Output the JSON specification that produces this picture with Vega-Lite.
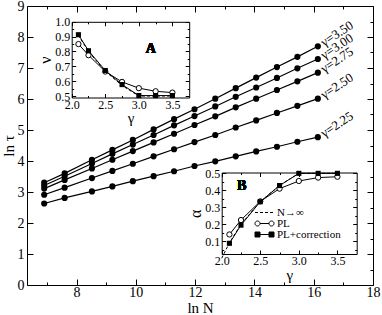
{
  "$schema": "https://vega.github.io/schema/vega-lite/v6.json",
  "width": 346,
  "height": 279,
  "autosize": {"type": "none"},
  "padding": {"left": 27, "top": 6, "right": 9, "bottom": 30},
  "config": {
    "view": {"stroke": null},
    "font": "Liberation Serif",
    "axis": {
      "grid": false,
      "labelFont": "Liberation Serif",
      "titleFont": "Liberation Serif",
      "titleFontWeight": "normal",
      "labelColor": "black",
      "titleColor": "black",
      "domainColor": "black",
      "tickColor": "black",
      "domainWidth": 1,
      "tickWidth": 1
    },
    "legend": {"labelFont": "Liberation Serif"}
  },
  "datasets": {
    "main": [
      {"gamma": "3.50", "lnN": 6.91, "lntau": 3.30}, {"gamma": "3.50", "lnN": 7.60, "lntau": 3.60}, {"gamma": "3.50", "lnN": 8.52, "lntau": 4.04}, {"gamma": "3.50", "lnN": 9.21, "lntau": 4.36}, {"gamma": "3.50", "lnN": 9.90, "lntau": 4.68}, {"gamma": "3.50", "lnN": 10.60, "lntau": 5.02}, {"gamma": "3.50", "lnN": 11.29, "lntau": 5.35}, {"gamma": "3.50", "lnN": 11.98, "lntau": 5.67}, {"gamma": "3.50", "lnN": 12.68, "lntau": 6.01}, {"gamma": "3.50", "lnN": 13.37, "lntau": 6.35}, {"gamma": "3.50", "lnN": 14.06, "lntau": 6.69}, {"gamma": "3.50", "lnN": 14.76, "lntau": 7.03}, {"gamma": "3.50", "lnN": 15.45, "lntau": 7.36}, {"gamma": "3.50", "lnN": 16.14, "lntau": 7.70},
      {"gamma": "3.00", "lnN": 6.91, "lntau": 3.21}, {"gamma": "3.00", "lnN": 7.60, "lntau": 3.51}, {"gamma": "3.00", "lnN": 8.52, "lntau": 3.92}, {"gamma": "3.00", "lnN": 9.21, "lntau": 4.23}, {"gamma": "3.00", "lnN": 9.90, "lntau": 4.53}, {"gamma": "3.00", "lnN": 10.60, "lntau": 4.84}, {"gamma": "3.00", "lnN": 11.29, "lntau": 5.15}, {"gamma": "3.00", "lnN": 11.98, "lntau": 5.45}, {"gamma": "3.00", "lnN": 12.68, "lntau": 5.76}, {"gamma": "3.00", "lnN": 13.37, "lntau": 6.07}, {"gamma": "3.00", "lnN": 14.06, "lntau": 6.37}, {"gamma": "3.00", "lnN": 14.76, "lntau": 6.68}, {"gamma": "3.00", "lnN": 15.45, "lntau": 6.99}, {"gamma": "3.00", "lnN": 16.14, "lntau": 7.29},
      {"gamma": "2.75", "lnN": 6.91, "lntau": 3.11}, {"gamma": "2.75", "lnN": 7.60, "lntau": 3.39}, {"gamma": "2.75", "lnN": 8.52, "lntau": 3.76}, {"gamma": "2.75", "lnN": 9.21, "lntau": 4.04}, {"gamma": "2.75", "lnN": 9.90, "lntau": 4.32}, {"gamma": "2.75", "lnN": 10.60, "lntau": 4.60}, {"gamma": "2.75", "lnN": 11.29, "lntau": 4.88}, {"gamma": "2.75", "lnN": 11.98, "lntau": 5.16}, {"gamma": "2.75", "lnN": 12.68, "lntau": 5.44}, {"gamma": "2.75", "lnN": 13.37, "lntau": 5.73}, {"gamma": "2.75", "lnN": 14.06, "lntau": 6.01}, {"gamma": "2.75", "lnN": 14.76, "lntau": 6.29}, {"gamma": "2.75", "lnN": 15.45, "lntau": 6.57}, {"gamma": "2.75", "lnN": 16.14, "lntau": 6.85},
      {"gamma": "2.50", "lnN": 6.91, "lntau": 2.91}, {"gamma": "2.50", "lnN": 7.60, "lntau": 3.14}, {"gamma": "2.50", "lnN": 8.52, "lntau": 3.45}, {"gamma": "2.50", "lnN": 9.21, "lntau": 3.68}, {"gamma": "2.50", "lnN": 9.90, "lntau": 3.91}, {"gamma": "2.50", "lnN": 10.60, "lntau": 4.15}, {"gamma": "2.50", "lnN": 11.29, "lntau": 4.38}, {"gamma": "2.50", "lnN": 11.98, "lntau": 4.61}, {"gamma": "2.50", "lnN": 12.68, "lntau": 4.84}, {"gamma": "2.50", "lnN": 13.37, "lntau": 5.08}, {"gamma": "2.50", "lnN": 14.06, "lntau": 5.31}, {"gamma": "2.50", "lnN": 14.76, "lntau": 5.55}, {"gamma": "2.50", "lnN": 15.45, "lntau": 5.78}, {"gamma": "2.50", "lnN": 16.14, "lntau": 6.01},
      {"gamma": "2.25", "lnN": 6.91, "lntau": 2.63}, {"gamma": "2.25", "lnN": 7.60, "lntau": 2.81}, {"gamma": "2.25", "lnN": 8.52, "lntau": 3.02}, {"gamma": "2.25", "lnN": 9.21, "lntau": 3.18}, {"gamma": "2.25", "lnN": 9.90, "lntau": 3.35}, {"gamma": "2.25", "lnN": 10.60, "lntau": 3.51}, {"gamma": "2.25", "lnN": 11.29, "lntau": 3.67}, {"gamma": "2.25", "lnN": 11.98, "lntau": 3.84}, {"gamma": "2.25", "lnN": 12.68, "lntau": 3.99}, {"gamma": "2.25", "lnN": 13.37, "lntau": 4.15}, {"gamma": "2.25", "lnN": 14.06, "lntau": 4.31}, {"gamma": "2.25", "lnN": 14.76, "lntau": 4.46}, {"gamma": "2.25", "lnN": 15.45, "lntau": 4.62}, {"gamma": "2.25", "lnN": 16.14, "lntau": 4.77}
    ],
    "insetA": [
      {"series": "N→∞", "gamma": 2.1, "nu": 0.909}, {"series": "N→∞", "gamma": 2.25, "nu": 0.8}, {"series": "N→∞", "gamma": 2.5, "nu": 0.667}, {"series": "N→∞", "gamma": 2.75, "nu": 0.571}, {"series": "N→∞", "gamma": 3.0, "nu": 0.5}, {"series": "N→∞", "gamma": 3.25, "nu": 0.5}, {"series": "N→∞", "gamma": 3.5, "nu": 0.5},
      {"series": "PL", "gamma": 2.1, "nu": 0.85}, {"series": "PL", "gamma": 2.25, "nu": 0.775}, {"series": "PL", "gamma": 2.5, "nu": 0.665}, {"series": "PL", "gamma": 2.75, "nu": 0.595}, {"series": "PL", "gamma": 3.0, "nu": 0.553}, {"series": "PL", "gamma": 3.25, "nu": 0.532}, {"series": "PL", "gamma": 3.5, "nu": 0.523},
      {"series": "PL+correction", "gamma": 2.1, "nu": 0.913}, {"series": "PL+correction", "gamma": 2.25, "nu": 0.805}, {"series": "PL+correction", "gamma": 2.5, "nu": 0.672}, {"series": "PL+correction", "gamma": 2.75, "nu": 0.577}, {"series": "PL+correction", "gamma": 3.0, "nu": 0.503}, {"series": "PL+correction", "gamma": 3.25, "nu": 0.503}, {"series": "PL+correction", "gamma": 3.5, "nu": 0.503}
    ],
    "insetB": [
      {"series": "N→∞", "gamma": 2.0, "alpha": 0.0}, {"series": "N→∞", "gamma": 2.1, "alpha": 0.0909}, {"series": "N→∞", "gamma": 2.25, "alpha": 0.2}, {"series": "N→∞", "gamma": 2.5, "alpha": 0.333}, {"series": "N→∞", "gamma": 2.75, "alpha": 0.4286}, {"series": "N→∞", "gamma": 3.0, "alpha": 0.5}, {"series": "N→∞", "gamma": 3.25, "alpha": 0.5}, {"series": "N→∞", "gamma": 3.5, "alpha": 0.5},
      {"series": "PL", "gamma": 2.1, "alpha": 0.14}, {"series": "PL", "gamma": 2.25, "alpha": 0.225}, {"series": "PL", "gamma": 2.5, "alpha": 0.335}, {"series": "PL", "gamma": 2.75, "alpha": 0.41}, {"series": "PL", "gamma": 3.0, "alpha": 0.455}, {"series": "PL", "gamma": 3.25, "alpha": 0.475}, {"series": "PL", "gamma": 3.5, "alpha": 0.48},
      {"series": "PL+correction", "gamma": 2.1, "alpha": 0.088}, {"series": "PL+correction", "gamma": 2.25, "alpha": 0.195}, {"series": "PL+correction", "gamma": 2.5, "alpha": 0.333}, {"series": "PL+correction", "gamma": 2.75, "alpha": 0.428}, {"series": "PL+correction", "gamma": 3.0, "alpha": 0.5}, {"series": "PL+correction", "gamma": 3.25, "alpha": 0.5}, {"series": "PL+correction", "gamma": 3.5, "alpha": 0.5}
    ]
  },
  "resolve": {"scale": {"x": "independent", "y": "independent"}},
  "layer": [
    {
      "data": {"name": "main"},
      "layer": [
        {
          "mark": {"type": "line", "color": "black", "strokeWidth": 1.2, "point": {"filled": true, "size": 38, "color": "black"}},
          "encoding": {
            "detail": {"field": "gamma", "type": "nominal"},
            "x": {"field": "lnN", "type": "quantitative", "scale": {"domain": [6.33, 18], "nice": false, "zero": false},
              "axis": {"orient": "bottom", "values": [7, 8, 9, 10, 11, 12, 13, 14, 15, 16, 17, 18], "format": "d",
                "labelExpr": "datum.value % 2 == 0 ? datum.label : ''",
                "tickSize": {"condition": {"test": "datum.value % 2 == 0", "value": -6}, "value": -3},
                "labelPadding": 6, "labelFlush": false, "labelOverlap": false, "labelFontSize": 14, "labelFont": "Liberation Serif",
                "title": "ln N", "titleFontSize": 15, "titlePadding": -2, "titleFont": "Liberation Serif"}},
            "y": {"field": "lntau", "type": "quantitative", "scale": {"domain": [0, 9], "nice": false, "zero": false},
              "axis": {"orient": "left", "values": [0, 0.5, 1, 1.5, 2, 2.5, 3, 3.5, 4, 4.5, 5, 5.5, 6, 6.5, 7, 7.5, 8, 8.5, 9], "format": "d",
                "labelExpr": "datum.value % 1 == 0 ? datum.label : ''",
                "tickSize": {"condition": {"test": "datum.value % 1 == 0", "value": -6}, "value": -3},
                "labelPadding": 9, "labelFlush": false, "labelOverlap": false, "labelFontSize": 14, "labelFont": "Liberation Serif",
                "title": "ln τ", "titleFontSize": 15, "titlePadding": 1, "titleFont": "Liberation Serif"}}
          }
        },
        {
          "mark": {"type": "point", "opacity": 0},
          "encoding": {
            "x": {"field": "lnN", "type": "quantitative", "scale": {"domain": [6.33, 18], "nice": false, "zero": false},
              "axis": {"orient": "top", "values": [7, 8, 9, 10, 11, 12, 13, 14, 15, 16, 17, 18], "labels": false, "title": null,
                "tickSize": {"condition": {"test": "datum.value % 2 == 0", "value": -6}, "value": -3}}},
            "y": {"field": "lntau", "type": "quantitative", "scale": {"domain": [0, 9], "nice": false, "zero": false},
              "axis": {"orient": "right", "values": [0, 0.5, 1, 1.5, 2, 2.5, 3, 3.5, 4, 4.5, 5, 5.5, 6, 6.5, 7, 7.5, 8, 8.5, 9], "labels": false, "title": null,
                "tickSize": {"condition": {"test": "datum.value % 1 == 0", "value": -6}, "value": -3}}}
          }
        },
        {
          "transform": [{"filter": "datum.lnN > 16"}, {"calculate": "'γ=' + datum.gamma", "as": "label"}],
          "mark": {"type": "text", "align": "left", "baseline": "middle", "angle": -33, "dx": 5, "font": "Liberation Serif", "fontSize": 13, "color": "black"},
          "encoding": {
            "text": {"field": "label"},
            "x": {"field": "lnN", "type": "quantitative", "scale": {"domain": [6.33, 18], "nice": false, "zero": false}, "axis": null},
            "y": {"field": "lntau", "type": "quantitative", "scale": {"domain": [0, 9], "nice": false, "zero": false}, "axis": null}
          }
        }
      ]
    },
    {
      "data": {"name": "insetA"},
      "layer": [
        {
          "transform": [{"filter": "datum.series == 'N→∞'"}],
          "mark": {"type": "line", "color": "black", "strokeWidth": 1, "strokeDash": [3, 2]},
          "encoding": {
            "x": {"field": "gamma", "type": "quantitative", "scale": {"domain": [2, 3.75], "range": [44.7, 162.2], "nice": false, "zero": false},
              "axis": {"orient": "bottom", "offset": -187.5, "values": [2, 2.25, 2.5, 2.75, 3, 3.25, 3.5], "format": ".1f",
                "labelExpr": "(datum.value * 4) % 2 == 0 ? datum.label : ''",
                "tickSize": {"condition": {"test": "(datum.value * 4) % 2 == 0", "value": -4}, "value": -2},
                "labelPadding": 6, "labelFlush": false, "labelOverlap": false, "labelFontSize": 12, "labelFont": "Liberation Serif",
                "title": "γ", "titleFontSize": 15, "titlePadding": -2, "titleFont": "Liberation Serif"}},
            "y": {"field": "nu", "type": "quantitative", "scale": {"domain": [0.49, 1.0], "range": [91.5, 15.8], "nice": false, "zero": false},
              "axis": {"orient": "left", "offset": -44.7, "values": [0.5, 0.55, 0.6, 0.65, 0.7, 0.75, 0.8, 0.85, 0.9, 0.95, 1.0], "format": ".1f",
                "labelExpr": "round(datum.value * 100) % 10 == 0 ? datum.label : ''",
                "tickSize": {"condition": {"test": "round(datum.value * 100) % 10 == 0", "value": -4}, "value": -2},
                "labelPadding": 6, "labelFlush": false, "labelOverlap": false, "labelFontSize": 12, "labelFont": "Liberation Serif",
                "title": "ν", "titleFontSize": 16, "titlePadding": 1, "titleFont": "Liberation Serif"}}
          }
        },
        {
          "transform": [{"filter": "datum.series == 'PL'"}],
          "mark": {"type": "line", "color": "black", "strokeWidth": 1, "point": {"shape": "circle", "filled": true, "fill": "white", "stroke": "black", "strokeWidth": 1, "size": 28}},
          "encoding": {
            "x": {"field": "gamma", "type": "quantitative", "scale": {"domain": [2, 3.75], "range": [44.7, 162.2], "nice": false, "zero": false}, "axis": null},
            "y": {"field": "nu", "type": "quantitative", "scale": {"domain": [0.49, 1.0], "range": [91.5, 15.8], "nice": false, "zero": false}, "axis": null}
          }
        },
        {
          "transform": [{"filter": "datum.series == 'PL+correction'"}],
          "mark": {"type": "line", "color": "black", "strokeWidth": 1, "point": {"shape": "square", "filled": true, "color": "black", "size": 26}},
          "encoding": {
            "x": {"field": "gamma", "type": "quantitative", "scale": {"domain": [2, 3.75], "range": [44.7, 162.2], "nice": false, "zero": false}, "axis": null},
            "y": {"field": "nu", "type": "quantitative", "scale": {"domain": [0.49, 1.0], "range": [91.5, 15.8], "nice": false, "zero": false}, "axis": null}
          }
        },
        {
          "mark": {"type": "point", "opacity": 0},
          "encoding": {
            "x": {"field": "gamma", "type": "quantitative", "scale": {"domain": [2, 3.75], "range": [44.7, 162.2], "nice": false, "zero": false},
              "axis": {"orient": "top", "offset": -15.8, "values": [2, 2.25, 2.5, 2.75, 3, 3.25, 3.5], "labels": false, "title": null,
                "tickSize": {"condition": {"test": "(datum.value * 4) % 2 == 0", "value": -4}, "value": -2}}},
            "y": {"field": "nu", "type": "quantitative", "scale": {"domain": [0.49, 1.0], "range": [91.5, 15.8], "nice": false, "zero": false},
              "axis": {"orient": "right", "offset": -183.8, "values": [0.5, 0.55, 0.6, 0.65, 0.7, 0.75, 0.8, 0.85, 0.9, 0.95, 1.0], "labels": false, "title": null,
                "tickSize": {"condition": {"test": "round(datum.value * 100) % 10 == 0", "value": -4}, "value": -2}}}
          }
        },
        {
          "mark": {"type": "text", "text": "A", "font": "Liberation Serif", "fontWeight": "bold", "fontSize": 14, "color": "black", "align": "center", "baseline": "middle"},
          "encoding": {
            "x": {"datum": 3.18, "type": "quantitative", "scale": {"domain": [2, 3.75], "range": [44.7, 162.2], "nice": false, "zero": false}, "axis": null},
            "y": {"datum": 0.82, "type": "quantitative", "scale": {"domain": [0.49, 1.0], "range": [91.5, 15.8], "nice": false, "zero": false}, "axis": null}
          }
        }
      ]
    },
    {
      "data": {"name": "insetB"},
      "layer": [
        {
          "transform": [{"filter": "datum.series == 'N→∞'"}],
          "mark": {"type": "line", "color": "black", "strokeWidth": 1, "strokeDash": [3, 2], "clip": true},
          "encoding": {
            "x": {"field": "gamma", "type": "quantitative", "scale": {"domain": [2, 3.75], "range": [194.7, 329.7], "nice": false, "zero": false},
              "axis": {"orient": "bottom", "offset": -31, "values": [2, 2.25, 2.5, 2.75, 3, 3.25, 3.5], "format": ".1f",
                "labelExpr": "(datum.value * 4) % 2 == 0 ? datum.label : ''",
                "tickSize": {"condition": {"test": "(datum.value * 4) % 2 == 0", "value": -4}, "value": -2},
                "labelPadding": 5, "labelFlush": false, "labelOverlap": false, "labelFontSize": 12, "labelFont": "Liberation Serif",
                "title": "γ", "titleFontSize": 15, "titlePadding": -1, "titleFont": "Liberation Serif"}},
            "y": {"field": "alpha", "type": "quantitative", "scale": {"domain": [0.025, 0.505], "range": [248, 166.5], "nice": false, "zero": false},
              "axis": {"orient": "left", "offset": -194.7, "values": [0.05, 0.1, 0.15, 0.2, 0.25, 0.3, 0.35, 0.4, 0.45, 0.5], "format": ".1f",
                "labelExpr": "round(datum.value * 100) % 10 == 0 ? datum.label : ''",
                "tickSize": {"condition": {"test": "round(datum.value * 100) % 10 == 0", "value": -4}, "value": -2},
                "labelPadding": 6, "labelFlush": false, "labelOverlap": false, "labelFontSize": 12, "labelFont": "Liberation Serif",
                "title": "α", "titleFontSize": 16, "titlePadding": 1, "titleFont": "Liberation Serif"}}
          }
        },
        {
          "transform": [{"filter": "datum.series == 'PL'"}],
          "mark": {"type": "line", "color": "black", "strokeWidth": 1, "point": {"shape": "circle", "filled": true, "fill": "white", "stroke": "black", "strokeWidth": 1, "size": 28}},
          "encoding": {
            "x": {"field": "gamma", "type": "quantitative", "scale": {"domain": [2, 3.75], "range": [194.7, 329.7], "nice": false, "zero": false}, "axis": null},
            "y": {"field": "alpha", "type": "quantitative", "scale": {"domain": [0.025, 0.505], "range": [248, 166.5], "nice": false, "zero": false}, "axis": null}
          }
        },
        {
          "transform": [{"filter": "datum.series == 'PL+correction'"}],
          "mark": {"type": "line", "color": "black", "strokeWidth": 1, "point": {"shape": "square", "filled": true, "color": "black", "size": 26}},
          "encoding": {
            "x": {"field": "gamma", "type": "quantitative", "scale": {"domain": [2, 3.75], "range": [194.7, 329.7], "nice": false, "zero": false}, "axis": null},
            "y": {"field": "alpha", "type": "quantitative", "scale": {"domain": [0.025, 0.505], "range": [248, 166.5], "nice": false, "zero": false}, "axis": null}
          }
        },
        {
          "mark": {"type": "point", "opacity": 0, "color": "black", "strokeWidth": 1},
          "encoding": {
            "x": {"field": "gamma", "type": "quantitative", "scale": {"domain": [2, 3.75], "range": [194.7, 329.7], "nice": false, "zero": false},
              "axis": {"orient": "top", "offset": -166.5, "values": [2, 2.25, 2.5, 2.75, 3, 3.25, 3.5], "labels": false, "title": null,
                "tickSize": {"condition": {"test": "(datum.value * 4) % 2 == 0", "value": -4}, "value": -2}}},
            "y": {"field": "alpha", "type": "quantitative", "scale": {"domain": [0.025, 0.505], "range": [248, 166.5], "nice": false, "zero": false},
              "axis": {"orient": "right", "offset": -16.3, "values": [0.05, 0.1, 0.15, 0.2, 0.25, 0.3, 0.35, 0.4, 0.45, 0.5], "labels": false, "title": null,
                "tickSize": {"condition": {"test": "round(datum.value * 100) % 10 == 0", "value": -4}, "value": -2}}},
            "shape": {"field": "series", "type": "nominal",
              "scale": {"domain": ["N→∞", "PL", "PL+correction"],
                "range": [
                  "M-2.375,0H-1.625M-1.125,0H-0.375M0.125,0H0.875M1.375,0H2.125",
                  "M-2.375,0A0.625,0.625,0,1,1,-1.125,0A0.625,0.625,0,1,1,-2.375,0ZM-1.125,0H1.125M1.125,0A0.625,0.625,0,1,1,2.375,0A0.625,0.625,0,1,1,1.125,0Z",
                  "M-2.375,-0.625H-1.125V0.625H-2.375ZM-1.125,0H1.125M1.125,-0.625H2.375V0.625H1.125Z"
                ]},
              "legend": {"orient": "none", "legendX": 232, "legendY": 201, "title": null, "symbolSize": 64, "symbolStrokeWidth": 1, "symbolOpacity": 1,
                "labelFont": "Liberation Serif", "labelFontSize": 11, "labelColor": "black", "labelOffset": 7, "rowPadding": -1, "padding": 0,
                "encoding": {"symbols": {"stroke": {"value": "black"}, "strokeWidth": {"value": 1}, "opacity": {"value": 1}}}}},
            "fill": {"field": "series", "type": "nominal",
              "scale": {"domain": ["N→∞", "PL", "PL+correction"], "range": ["transparent", "white", "black"]},
              "legend": {"orient": "none", "legendX": 232, "legendY": 201, "title": null, "symbolSize": 64, "symbolStrokeWidth": 1, "symbolOpacity": 1,
                "labelFont": "Liberation Serif", "labelFontSize": 11, "labelColor": "black", "labelOffset": 7, "rowPadding": -1, "padding": 0,
                "encoding": {"symbols": {"stroke": {"value": "black"}, "strokeWidth": {"value": 1}, "opacity": {"value": 1}}}}}
          }
        },
        {
          "mark": {"type": "text", "text": "B", "font": "Liberation Serif", "fontWeight": "bold", "fontSize": 14, "color": "black", "align": "center", "baseline": "middle"},
          "encoding": {
            "x": {"datum": 2.26, "type": "quantitative", "scale": {"domain": [2, 3.75], "range": [194.7, 329.7], "nice": false, "zero": false}, "axis": null},
            "y": {"datum": 0.425, "type": "quantitative", "scale": {"domain": [0.025, 0.505], "range": [248, 166.5], "nice": false, "zero": false}, "axis": null}
          }
        }
      ]
    }
  ]
}
